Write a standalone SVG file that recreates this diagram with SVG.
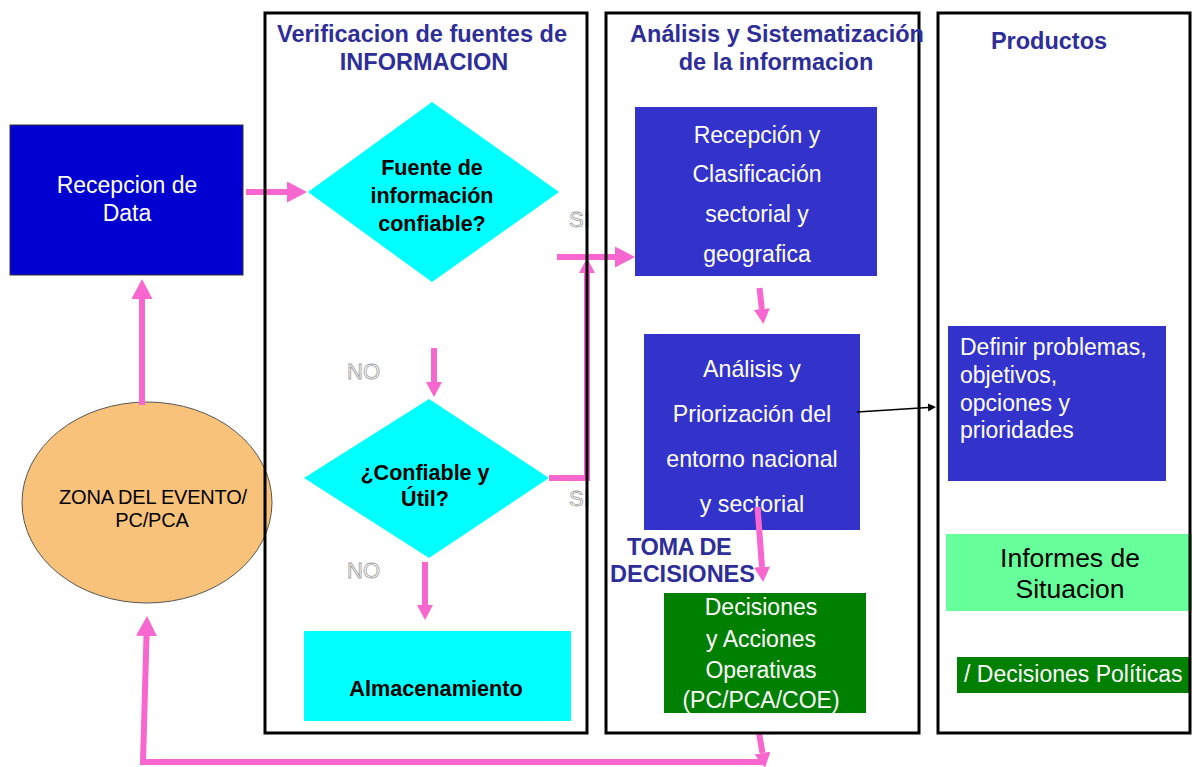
<svg xmlns="http://www.w3.org/2000/svg" width="1192" height="767" viewBox="0 0 1192 767">
<style>
text{font-family:"Liberation Sans",Arial,sans-serif}
.title{font-size:23.5px;font-weight:bold;fill:#2E2E99;text-anchor:middle}
.wt{fill:#ffffff;text-anchor:middle}
.bk{fill:#000000;text-anchor:middle}
.dia{fill:#00FFFF}
.blue{fill:#3333CC}
.green{fill:#008000}
.pink{fill:none;stroke:#F866CF;stroke-width:6}
.lane{fill:none;stroke:#000;stroke-width:3}
.hollow{font-size:22px;fill:#ffffff;stroke:#9A9A9A;stroke-width:0.8}
</style>
<defs>
<marker id="pkL" markerUnits="userSpaceOnUse" markerWidth="22" markerHeight="22" refX="0" refY="10.5" orient="auto"><path d="M0,0 L20,10.5 L0,21 z" fill="#F866CF"/></marker>
<marker id="pkS" markerUnits="userSpaceOnUse" markerWidth="18" markerHeight="18" refX="0" refY="8" orient="auto"><path d="M0,0 L15,8 L0,16 z" fill="#F866CF"/></marker>
<marker id="bkS" markerUnits="userSpaceOnUse" markerWidth="10" markerHeight="10" refX="0" refY="4" orient="auto"><path d="M0,0 L8,4 L0,8 z" fill="#000"/></marker>
</defs>
<rect width="1192" height="767" fill="#ffffff"/>

<g id="zona">
<ellipse cx="147" cy="502.5" rx="125" ry="100.5" fill="#F9C27A" stroke="#555" stroke-width="1"/>
<text class="bk" x="153" y="504" font-size="20" letter-spacing="-0.2">ZONA DEL EVENTO/</text>
<text class="bk" x="152" y="527" font-size="20" letter-spacing="-0.2">PC/PCA</text>
</g>

<g id="recepcion-data">
<rect x="10" y="125" width="233" height="150" fill="#0000D0" stroke="#333" stroke-width="1"/>
<text class="wt" x="127" y="193" font-size="23">Recepcion de</text>
<text class="wt" x="127" y="221" font-size="23">Data</text>
</g>

<g id="fuente">
<polygon class="dia" points="432,102 559,192 432,282 308,192"/>
<text class="bk" x="432" y="175" font-size="21.5" font-weight="bold">Fuente de</text>
<text class="bk" x="432" y="203" font-size="21.5" font-weight="bold">información</text>
<text class="bk" x="432" y="231" font-size="21.5" font-weight="bold">confiable?</text>
</g>

<g id="confiable-util">
<polygon class="dia" points="429,399 549,478 429,558 304,478"/>
<text class="bk" x="425" y="480" font-size="21.5" font-weight="bold">¿Confiable y</text>
<text class="bk" x="425" y="506" font-size="21.5" font-weight="bold">Útil?</text>
</g>

<g id="almacenamiento">
<rect class="dia" x="304" y="631" width="267" height="90"/>
<text class="bk" x="436" y="696" font-size="21.7" font-weight="bold">Almacenamiento</text>
</g>

<g id="recepcion-clasificacion">
<rect class="blue" x="635" y="107" width="242" height="169"/>
<text class="wt" x="757" y="143" font-size="23">Recepción y</text>
<text class="wt" x="757" y="182" font-size="23">Clasificación</text>
<text class="wt" x="757" y="222" font-size="23">sectorial y</text>
<text class="wt" x="757" y="262" font-size="23">geografica</text>
</g>

<g id="analisis">
<rect class="blue" x="644" y="334" width="216" height="196"/>
<text class="wt" x="752" y="377" font-size="23.2">Análisis y</text>
<text class="wt" x="752" y="422" font-size="23.2">Priorización del</text>
<text class="wt" x="752" y="467" font-size="23.2">entorno nacional</text>
<text class="wt" x="752" y="512" font-size="23.2">y sectorial</text>
</g>

<g id="toma-decisiones">
<text x="627" y="555" font-size="23.5" font-weight="bold" fill="#2E2E99" letter-spacing="-0.4">TOMA DE</text>
<text x="610" y="582" font-size="23.5" font-weight="bold" fill="#2E2E99">DECISIONES</text>
</g>

<g id="decisiones-acciones">
<rect class="green" x="664" y="593" width="202" height="120"/>
<text class="wt" x="761" y="615" font-size="23">Decisiones</text>
<text class="wt" x="761" y="647" font-size="23">y Acciones</text>
<text class="wt" x="761" y="678" font-size="23">Operativas</text>
<text class="wt" x="761" y="708" font-size="23">(PC/PCA/COE)</text>
</g>

<g id="definir">
<rect class="blue" x="948" y="326" width="218" height="155"/>
<text x="960" y="355" font-size="23" fill="#fff">Definir problemas,</text>
<text x="960" y="383" font-size="23" fill="#fff">objetivos,</text>
<text x="960" y="411" font-size="23" fill="#fff">opciones y</text>
<text x="960" y="438" font-size="23" fill="#fff">prioridades</text>
</g>

<g id="informes">
<rect x="946" y="534" width="246" height="77" fill="#66FF99"/>
<text class="bk" x="1070" y="567" font-size="26.5">Informes de</text>
<text class="bk" x="1070" y="598" font-size="26.5">Situacion</text>
</g>

<g id="decisiones-politicas">
<rect class="green" x="957" y="657" width="234" height="36"/>
<text x="964" y="682" font-size="23" fill="#fff">/ Decisiones Políticas</text>
</g>

<g id="labels">
<text class="hollow" x="347" y="379">NO</text>
<text class="hollow" x="347" y="578">NO</text>
<text class="hollow" x="569" y="227">SI</text>
<text class="hollow" x="569" y="506">SI</text>
</g>

<g id="connectors">
<line class="pink" x1="246" y1="192" x2="287" y2="192" marker-end="url(#pkL)"/>
<line class="pink" x1="557" y1="257" x2="615" y2="257" marker-end="url(#pkL)"/>
<path class="pink" d="M549,478 H587 V273" marker-end="url(#pkS)"/>
<line class="pink" x1="434" y1="348" x2="434" y2="382" stroke-width="5" marker-end="url(#pkS)"/>
<line class="pink" x1="425" y1="562" x2="425" y2="605" stroke-width="5" marker-end="url(#pkS)"/>
<line class="pink" x1="759.5" y1="288" x2="761.8" y2="309" stroke-width="5" marker-end="url(#pkS)"/>
<line class="pink" x1="757.5" y1="507" x2="762" y2="567" stroke-width="5" marker-end="url(#pkS)"/>
<line class="pink" x1="759" y1="733" x2="762.5" y2="753" stroke-width="5" marker-end="url(#pkS)"/>
<path class="pink" d="M765,762 H143 L146.5,636" marker-end="url(#pkL)"/>
<line class="pink" x1="142" y1="405" x2="142" y2="299" marker-end="url(#pkL)"/>
<line x1="857" y1="412" x2="928" y2="407.5" stroke="#000" stroke-width="1.5" marker-end="url(#bkS)"/>
</g>

<g id="lane-verificacion">
<rect class="lane" x="265" y="13" width="322" height="720"/>
<text class="title" x="422" y="42">Verificacion de fuentes de</text>
<text class="title" x="424" y="70">INFORMACION</text>
</g>
<g id="lane-analisis">
<rect class="lane" x="606" y="13" width="313" height="720"/>
<text class="title" x="777" y="42">Análisis y Sistematización</text>
<text class="title" x="776" y="70">de la informacion</text>
</g>
<g id="lane-productos">
<rect class="lane" x="938" y="13" width="252" height="720"/>
<text class="title" x="1049" y="49">Productos</text>
</g>
</svg>
